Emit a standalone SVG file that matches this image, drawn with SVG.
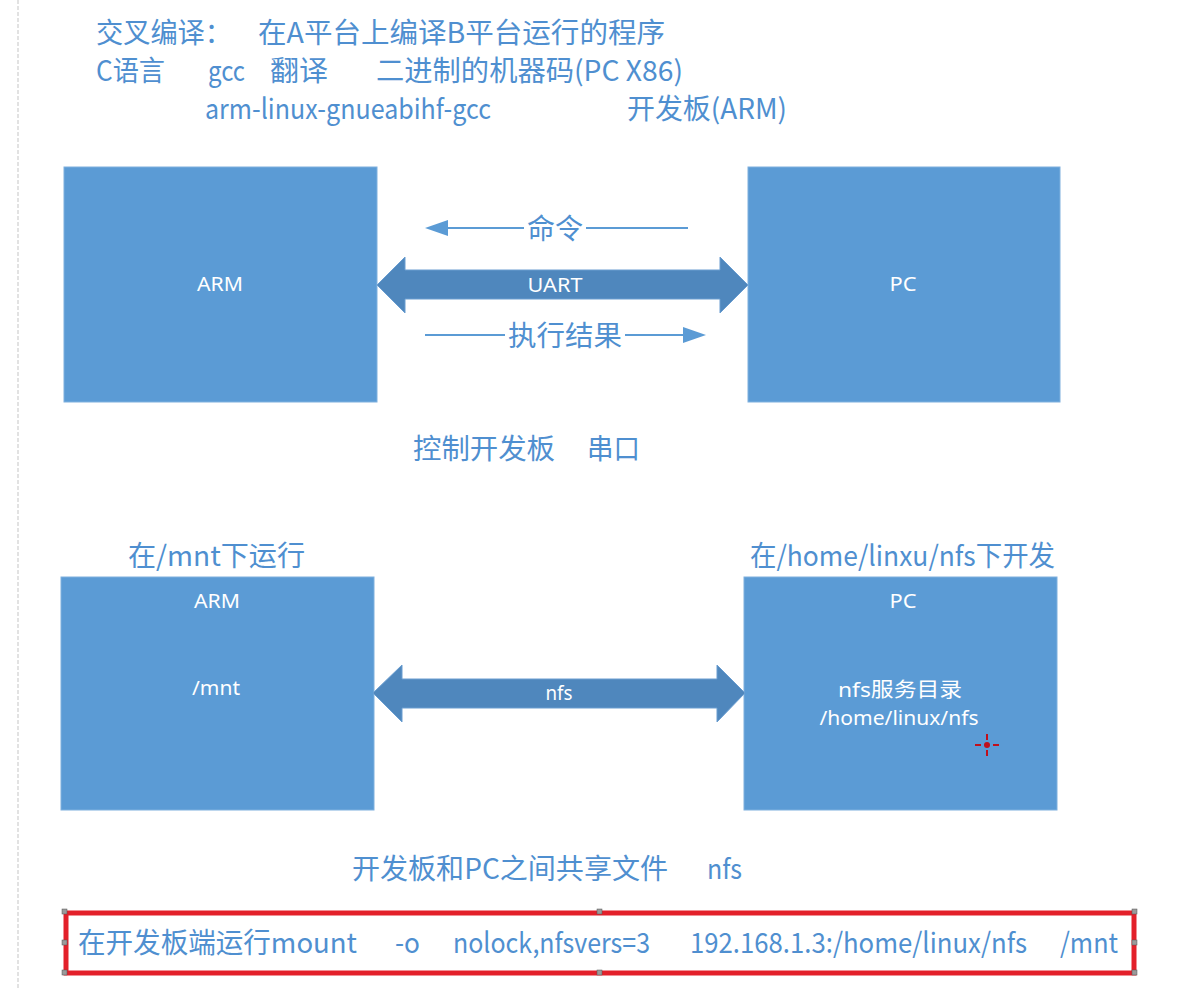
<svg xmlns="http://www.w3.org/2000/svg" width="1180" height="989" viewBox="0 0 1180 989">
<style>
.t{font-family:"Noto Sans CJK SC","Noto Sans",sans-serif;fill:#4f8fd0;font-size:28px}
.w{font-family:"Noto Sans","Noto Sans CJK SC",sans-serif;fill:#ffffff;font-size:20px;text-anchor:middle}
.box{fill:#5b9bd5;stroke:#7fb0de;stroke-width:1}
.big{fill:#4f87bd;stroke:#6a9dd0;stroke-width:1}
.ln{stroke:#5b9bd5;stroke-width:2;fill:none}
.hd{fill:#5b9bd5}
.hdl{fill:#9a9a9a;stroke:#555;stroke-width:0.5}
</style>
<rect width="1180" height="989" fill="#ffffff"/>
<line x1="18" y1="0" x2="18" y2="989" stroke="#e2e2e2" stroke-width="2" stroke-dasharray="4,2"/>

<g id="notes">
<text class="t" x="96" y="43" textLength="136" lengthAdjust="spacingAndGlyphs">交叉编译：</text>
<text class="t" x="258" y="43" textLength="407" lengthAdjust="spacingAndGlyphs">在A平台上编译B平台运行的程序</text>
<text class="t" x="96" y="81" textLength="69" lengthAdjust="spacingAndGlyphs">C语言</text>
<text class="t" x="208" y="81" textLength="37" lengthAdjust="spacingAndGlyphs">gcc</text>
<text class="t" x="270" y="81" textLength="58" lengthAdjust="spacingAndGlyphs">翻译</text>
<text class="t" x="376" y="81" textLength="307" lengthAdjust="spacingAndGlyphs">二进制的机器码(PC  X86)</text>
<text class="t" x="205" y="119" textLength="286" lengthAdjust="spacingAndGlyphs">arm-linux-gnueabihf-gcc</text>
<text class="t" x="627" y="119" textLength="160" lengthAdjust="spacingAndGlyphs">开发板(ARM)</text>
<text class="t" x="413" y="459" textLength="142" lengthAdjust="spacingAndGlyphs">控制开发板</text>
<text class="t" x="587" y="459" textLength="53" lengthAdjust="spacingAndGlyphs">串口</text>
<text class="t" x="128" y="566" textLength="177" lengthAdjust="spacingAndGlyphs">在/mnt下运行</text>
<text class="t" x="750" y="566" textLength="305" lengthAdjust="spacingAndGlyphs">在/home/linxu/nfs下开发</text>
<text class="t" x="352" y="879" textLength="316" lengthAdjust="spacingAndGlyphs">开发板和PC之间共享文件</text>
<text class="t" x="707" y="879" textLength="35" lengthAdjust="spacingAndGlyphs">nfs</text>
</g>

<g id="arm1">
<rect class="box" x="64" y="167" width="313" height="235"/>
<text class="w" x="220" y="291" textLength="46" lengthAdjust="spacingAndGlyphs">ARM</text>
</g>
<g id="pc1">
<rect class="box" x="748" y="167" width="312" height="235"/>
<text class="w" x="903" y="291" textLength="27" lengthAdjust="spacingAndGlyphs">PC</text>
</g>
<g id="arm2">
<rect class="box" x="61" y="577" width="313" height="233"/>
<text class="w" x="217" y="608" textLength="46" lengthAdjust="spacingAndGlyphs">ARM</text>
<text class="w" x="216" y="695" textLength="48" lengthAdjust="spacingAndGlyphs">/mnt</text>
</g>
<g id="pc2">
<rect class="box" x="744" y="577" width="313" height="233"/>
<text class="w" x="903" y="608" textLength="27" lengthAdjust="spacingAndGlyphs">PC</text>
<text class="w" x="900" y="697" font-size="22" textLength="124" lengthAdjust="spacingAndGlyphs">nfs服务目录</text>
<text class="w" x="899" y="725" font-size="21" textLength="159" lengthAdjust="spacingAndGlyphs">/home/linux/nfs</text>
<g id="cursor" stroke="#c0101c" stroke-width="2">
<line x1="987" y1="734" x2="987" y2="740"/>
<line x1="987" y1="750" x2="987" y2="756"/>
<line x1="975" y1="745" x2="981" y2="745"/>
<line x1="993" y1="745" x2="999" y2="745"/>
<circle cx="987" cy="745" r="3" fill="#c0101c" stroke="none"/>
</g>
</g>

<g id="connectors">
<line class="ln" x1="688" y1="228" x2="440" y2="228"/>
<polygon class="hd" points="425,228 448,220 448,236"/>
<rect x="524" y="212" width="62" height="32" fill="#ffffff"/>
<text class="t" x="527" y="239" textLength="56" lengthAdjust="spacingAndGlyphs">命令</text>

<polygon class="big" points="377,285 405,257 405,270 720,270 720,257 748,285 720,313 720,299 405,299 405,313"/>
<text class="w" x="555" y="292" textLength="55" lengthAdjust="spacingAndGlyphs">UART</text>

<line class="ln" x1="425" y1="335" x2="690" y2="335"/>
<polygon class="hd" points="706,335 683,327 683,343"/>
<rect x="505" y="318" width="120" height="34" fill="#ffffff"/>
<text class="t" x="508" y="346" textLength="114" lengthAdjust="spacingAndGlyphs">执行结果</text>

<polygon class="big" points="373,693 402,665 402,679 717,679 717,665 745,693 717,722 717,708 402,708 402,722"/>
<text class="w" x="559" y="700" textLength="27" lengthAdjust="spacingAndGlyphs">nfs</text>
</g>

<g id="command">
<rect x="66" y="913" width="1068" height="60" fill="#ffffff" stroke="#e3202a" stroke-width="5"/>
<rect class="hdl" x="62" y="909" width="5" height="5"/>
<rect class="hdl" x="597" y="909" width="5" height="5"/>
<rect class="hdl" x="1132" y="909" width="5" height="5"/>
<rect class="hdl" x="62" y="940" width="5" height="5"/>
<rect class="hdl" x="1132" y="940" width="5" height="5"/>
<rect class="hdl" x="62" y="970" width="5" height="5"/>
<rect class="hdl" x="597" y="970" width="5" height="5"/>
<rect class="hdl" x="1132" y="970" width="5" height="5"/>
<text class="t" x="78" y="953" textLength="279" lengthAdjust="spacingAndGlyphs">在开发板端运行mount</text>
<text class="t" x="395" y="953" textLength="25" lengthAdjust="spacingAndGlyphs">-o</text>
<text class="t" x="453" y="953" textLength="197" lengthAdjust="spacingAndGlyphs">nolock,nfsvers=3</text>
<text class="t" x="690" y="953" textLength="337" lengthAdjust="spacingAndGlyphs">192.168.1.3:/home/linux/nfs</text>
<text class="t" x="1060" y="953" textLength="58" lengthAdjust="spacingAndGlyphs">/mnt</text>
</g>
</svg>
